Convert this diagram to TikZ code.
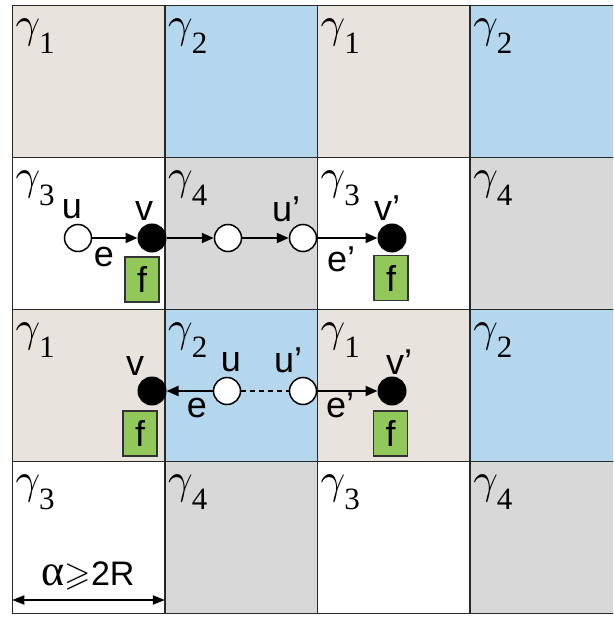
\documentclass[tikz,border=0pt]{standalone}
\usepackage{fontspec}
\usepackage{amssymb}
\setmainfont{Liberation Serif}
\setsansfont{Liberation Sans}
\usetikzlibrary{arrows.meta}
\definecolor{cbeige}{RGB}{232,228,221}
\definecolor{cblue}{RGB}{180,215,237}
\definecolor{cgray}{RGB}{216,216,216}
\definecolor{cgreen}{RGB}{146,200,90}
\definecolor{cgrid}{RGB}{40,40,40}
\newcommand{\gamlab}[1]{\scalebox{4.3}{$\gamma$}\kern-1pt\raisebox{-16pt}{\fontsize{31}{31}\selectfont #1}}
\tikzset{
  cellbox/.style={draw=cgrid, line width=1.5pt},
  glab/.style={inner sep=0pt, anchor=base west},
  wnode/.style={circle, draw=black, fill=white, line width=1.5pt, minimum size=27pt, inner sep=0pt},
  bnode/.style={circle, draw=black, fill=black, line width=1pt, minimum size=28pt, inner sep=0pt},
  fbox/.style={draw=black!80, fill=cgreen, line width=1.2pt, minimum width=34pt, minimum height=45pt, inner sep=0pt, font=\sffamily\fontsize{36}{36}\selectfont},
  lab/.style={inner sep=0pt, font=\sffamily\fontsize{36}{36}\selectfont},
  conn/.style={line width=2pt, -{Triangle[length=12pt,width=10pt]}},
  dim/.style={line width=1.8pt, {Triangle[length=12pt,width=9pt]}-{Triangle[length=12pt,width=9pt]}}
}
\begin{document}
\begin{tikzpicture}[x=1pt,y=-1pt]
\useasboundingbox (0,0) rectangle (613,617);
\clip (0,0) rectangle (613,617);
\fill[white] (0,0) rectangle (613,617);
% cells
\foreach \r in {0,1,2,3}{
  \foreach \c in {0,1,2,3}{
    \pgfmathsetmacro{\xa}{12.3+152.6*\c}
    \pgfmathsetmacro{\ya}{5.7+151.9*\r}
    \pgfmathtruncatemacro{\rp}{mod(\r,2)}
    \pgfmathtruncatemacro{\cp}{mod(\c,2)}
    \ifnum\rp=0
      \ifnum\cp=0 \def\cc{cbeige}\def\gg{1}\else \def\cc{cblue}\def\gg{2}\fi
    \else
      \ifnum\cp=0 \def\cc{white}\def\gg{3}\else \def\cc{cgray}\def\gg{4}\fi
    \fi
    \draw[cellbox, fill=\cc] (\xa,\ya) rectangle ++(152.6,151.9);
    \node[glab] (g\r\c) at (\xa+3,\ya+32) {\gamlab{\gg}};
  }
}
% row 2 nodes
\node[wnode] (u1) at (78,238) {};
\node[bnode] (v1) at (152,238) {};
\node[wnode] (m1) at (228,238) {};
\node[wnode] (up1) at (303,238) {};
\node[bnode] (vp1) at (392,238) {};
\node[fbox] (f1) at (142,279.5) {f};
\node[fbox] (f2) at (391,278) {f};
\draw[conn] (u1) -- (v1);
\draw[conn] (v1) -- (m1);
\draw[conn] (m1) -- (up1);
\draw[conn] (up1) -- (vp1);
\node[lab, anchor=base] (lu1) at (72,219) {u};
\node[lab, anchor=base] (lv1) at (144,221) {v};
\node[lab, anchor=base] (le1) at (104,266) {e};
\node[lab, anchor=base west] (lup1) at (272,222) {u’};
\node[lab, anchor=base west] (lvp1) at (374,221) {v’};
\node[lab, anchor=base west] (lep1) at (327,271) {e’};
% row 3 nodes
\node[bnode] (v2) at (152,391) {};
\node[wnode] (u2) at (227,391) {};
\node[wnode] (up2) at (303,391) {};
\node[bnode] (vp2) at (392,391) {};
\node[fbox] (f3) at (140,433.5) {f};
\node[fbox] (f4) at (390.5,433.5) {f};
\draw[conn] (u2) -- (v2);
\draw[line width=2pt, dash pattern=on 5pt off 4pt] (u2) -- (up2);
\draw[conn] (up2) -- (vp2);
\node[lab, anchor=base] (lv2) at (135,375) {v};
\node[lab, anchor=base] (lu2) at (231,371) {u};
\node[lab, anchor=base west] (lup2) at (274,372) {u’};
\node[lab, anchor=base west] (lvp2) at (386,374) {v’};
\node[lab, anchor=base] (le2) at (197,417) {e};
\node[lab, anchor=base west] (lep2) at (326,417) {e’};
% dimension
\coordinate (da) at (12.3,600);
\coordinate (db) at (164.9,600);
\draw[dim] (da) -- (db);
\node[inner sep=0pt, anchor=base] (dl) at (88,585) {{\fontsize{44}{44}\selectfont α}{\fontsize{34}{34}\selectfont$\geqslant$\sffamily 2R}};
\end{tikzpicture}
\end{document}
